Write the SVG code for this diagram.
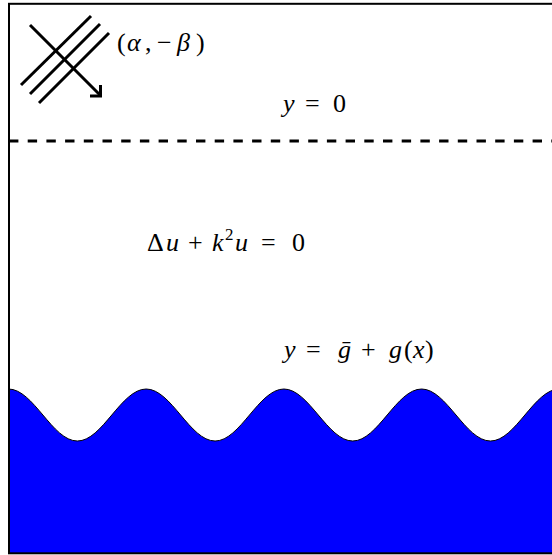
<svg xmlns="http://www.w3.org/2000/svg" width="552" height="555" viewBox="0 0 552 555">
<style>
.ln{stroke:#000;stroke-width:3;fill:none;stroke-linecap:butt}
.i{font-style:italic}
</style>
<rect width="552" height="555" fill="#fff"/>
<g id="fluid">
<path d="M 8.5 389 C 33.5 389 52.3 441 77.35 441 C 102.4 441 121.2 389 146.2 389 C 171.2 389 190 441 215.05 441 C 240.1 441 258.9 389 283.9 389 C 308.9 389 327.7 441 352.75 441 C 377.8 441 396.6 389 421.6 389 C 446.6 389 465.4 441 490.45 441 C 515.5 441 534.3 389 559.3 389 L 559.3 554 L 8.5 554 Z" fill="#0000ff"/>
<path d="M 8.5 389 C 33.5 389 52.3 441 77.35 441 C 102.4 441 121.2 389 146.2 389 C 171.2 389 190 441 215.05 441 C 240.1 441 258.9 389 283.9 389 C 308.9 389 327.7 441 352.75 441 C 377.8 441 396.6 389 421.6 389 C 446.6 389 465.4 441 490.45 441 C 515.5 441 534.3 389 559.3 389" fill="none" stroke="#000" stroke-width="1"/>
</g>
<g id="frame">
<rect x="9" y="3.8" width="560" height="549.5" fill="none" stroke="#000" stroke-width="2"/>
</g>
<g id="boundary">
<line x1="9" y1="141" x2="552" y2="141" stroke="#000" stroke-width="3" stroke-dasharray="9.4 9.3"/>
</g>
<g id="incident-wave">
<line class="ln" x1="21" y1="85" x2="91" y2="16"/>
<line class="ln" x1="30" y1="94" x2="100" y2="24"/>
<line class="ln" x1="39" y1="103" x2="109" y2="33"/>
<line class="ln" x1="30" y1="25" x2="100" y2="95"/>
<polyline class="ln" points="90,96 100.5,96 100.5,85"/>
</g>
<g id="labels" font-family="Liberation Serif, serif" font-size="26" fill="#000">
<text y="51"><tspan x="117">(</tspan><tspan x="127" class="i">α</tspan><tspan x="145">,</tspan><tspan x="157">−</tspan><tspan x="177" class="i">β</tspan><tspan x="196">)</tspan></text>
<text y="111.5"><tspan x="283" class="i">y</tspan><tspan x="305">=</tspan><tspan x="333">0</tspan></text>
<text y="251"><tspan x="147">Δ</tspan><tspan x="166" class="i">u</tspan><tspan x="188">+</tspan><tspan x="212" class="i">k</tspan><tspan x="225" y="240" font-size="17">2</tspan><tspan x="235" y="251" class="i">u</tspan><tspan x="261">=</tspan><tspan x="292">0</tspan></text>
<text y="358"><tspan x="284" class="i">y</tspan><tspan x="306">=</tspan><tspan x="338" class="i">ḡ</tspan><tspan x="361">+</tspan><tspan x="389" class="i">g</tspan><tspan x="404">(</tspan><tspan x="413" class="i">x</tspan><tspan x="425">)</tspan></text>
</g>
</svg>
